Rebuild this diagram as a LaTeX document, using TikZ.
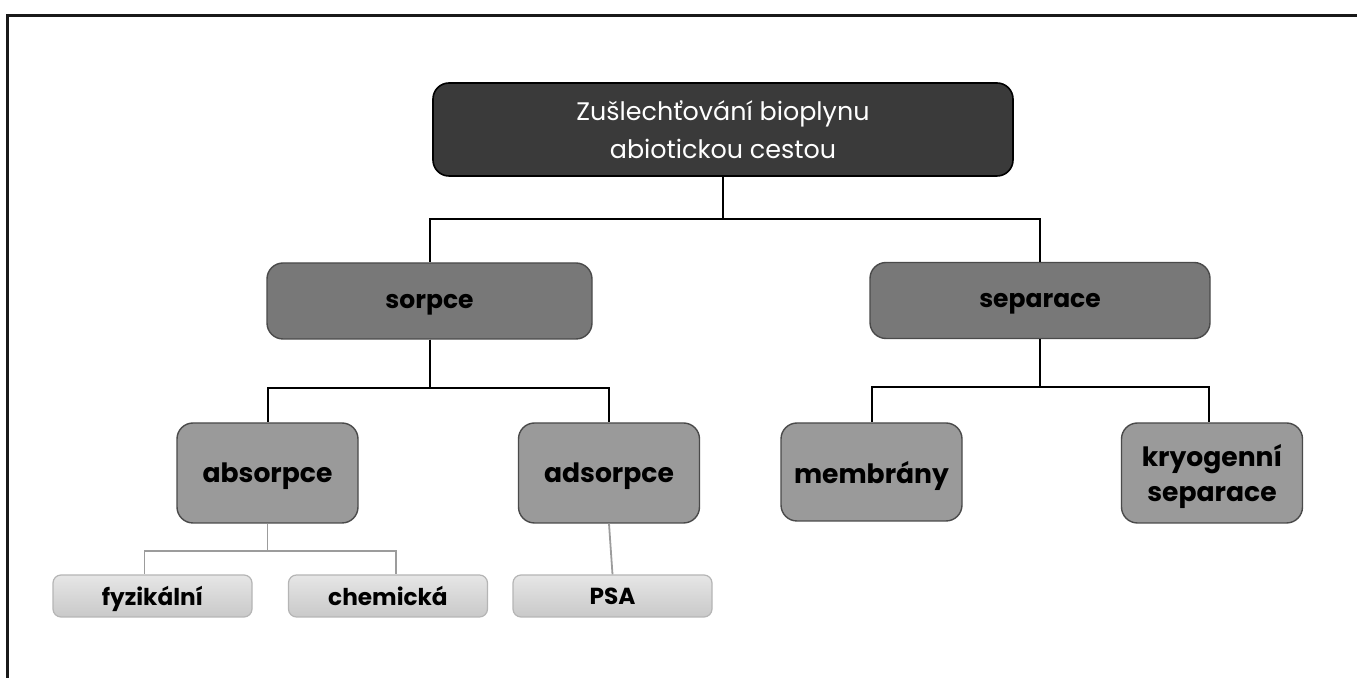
\documentclass[tikz,border=0pt]{standalone}
\usepackage{fontspec}
\setmainfont{Poppins}
\definecolor{topfill}{HTML}{3A3A3A}
\definecolor{midfill}{HTML}{787878}
\definecolor{lowfill}{HTML}{9A9A9A}
\definecolor{leafhi}{HTML}{E6E6E6}
\definecolor{leaflo}{HTML}{C9C9C9}
\definecolor{leafdraw}{HTML}{B5B5B5}
\definecolor{boxdraw}{HTML}{4A4A4A}
\definecolor{thinline}{HTML}{9C9C9C}
\tikzset{
  rootbox/.style={draw=black, line width=0.8pt, fill=topfill, rounded corners=8pt, text=white, align=center, font=\fontsize{12.7}{19}\selectfont, minimum width=290pt, minimum height=46.5pt},
  midbox/.style={draw=boxdraw, line width=0.7pt, fill=midfill, rounded corners=8pt, align=center, font=\bfseries\fontsize{12.5}{15}\selectfont, minimum height=38pt, text depth=0pt},
  lowbox/.style={draw=boxdraw, line width=0.7pt, fill=lowfill, rounded corners=8pt, align=center, font=\bfseries\fontsize{13.3}{17.5}\selectfont, minimum width=90.5pt, minimum height=50pt, text depth=0pt},
  leafbox/.style={draw=leafdraw, line width=0.6pt, top color=leafhi, bottom color=leaflo, rounded corners=4pt, align=center, font=\bfseries\fontsize{11.6}{13}\selectfont, minimum width=99.5pt, minimum height=21pt, text depth=0pt},
  link/.style={draw=black, line width=1pt},
  thinlink/.style={draw=thinline, line width=0.9pt},
}
\begin{document}
\begin{tikzpicture}[x=0.5pt, y=-0.5pt]
\useasboundingbox (0,0) rectangle (1357,678);
\coordinate (fa) at (7.5,678);
\coordinate (fb) at (7.5,15.5);
\coordinate (fc) at (1357,15.5);
\draw[line width=1.8pt, draw=black!90] (fa) -- (fb) -- (fc);

\node[rootbox] (root) at (723,129.5) {Zušlechťování bioplynu\\abiotickou cestou};
\node[midbox, minimum width=162.5pt] (sorpce) at (429.5,301) {sorpce};
\node[midbox, minimum width=170pt] (separace) at (1040,300.5) {separace};
\node[lowbox] (absorpce) at (267.5,473) {absorpce};
\node[lowbox] (adsorpce) at (609,473) {adsorpce};
\node[lowbox, minimum height=49pt] (membrany) at (871.5,472) {membrány};
\node[lowbox] (kryo) at (1212,473) {kryogenní\\separace};
\node[leafbox] (fyz) at (152.5,596) {fyzikální};
\node[leafbox] (chem) at (388,596) {chemická};
\node[leafbox] (psa) at (612.5,596) {PSA};

\draw[link] (root.south) -- ++(0,42) -| (sorpce.north);
\draw[link] (root.south) -- ++(0,42) -| (separace.north);
\draw[link] (sorpce.south) -- ++(0,48) -| (absorpce.north);
\draw[link] (sorpce.south) -- ++(0,48) -| (adsorpce.north);
\draw[link] (separace.south) -- ++(0,48) -| (membrany.north);
\draw[link] (separace.south) -- ++(0,48) -| ([xshift=-1.5pt]kryo.north);
\draw[thinlink] (absorpce.south) -- ++(0,27) -| ([xshift=-4pt]fyz.north);
\draw[thinlink] (absorpce.south) -- ++(0,27) -| ([xshift=4pt]chem.north);
\draw[thinlink] (adsorpce.south) -- (psa.north);
\end{tikzpicture}
\end{document}
